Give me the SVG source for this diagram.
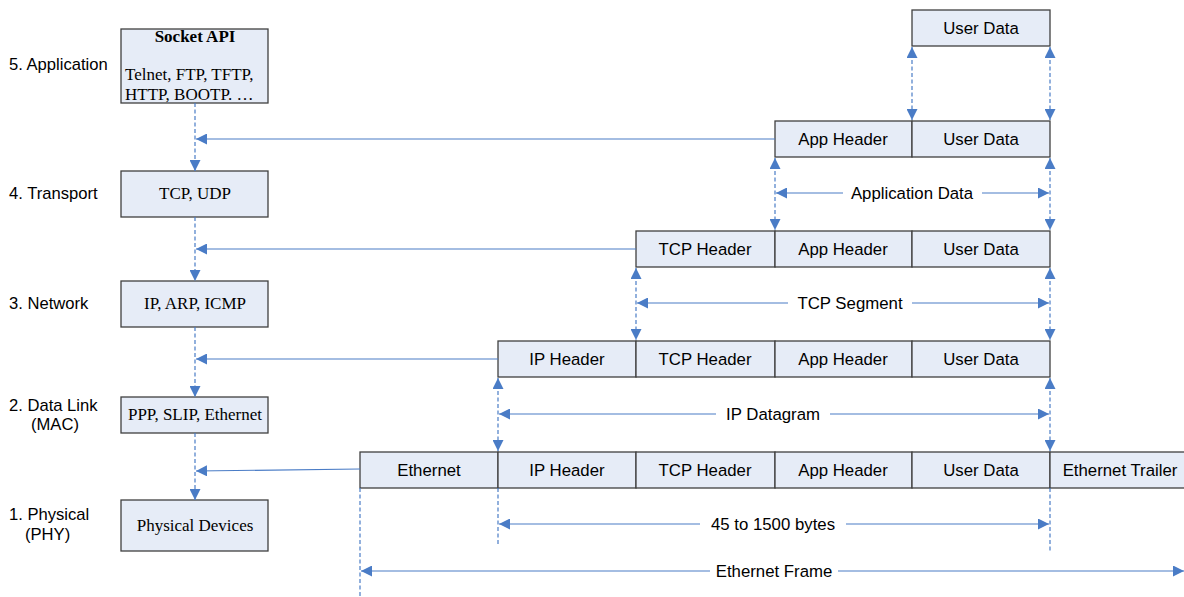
<svg xmlns="http://www.w3.org/2000/svg" width="1184" height="597" viewBox="0 0 1184 597">
<defs>
<style>
.box{fill:#E6ECF7;stroke:#404040;stroke-width:1.3}
.t{font-family:"Liberation Sans",Arial,sans-serif;font-size:16.8px;fill:#000;text-anchor:middle}
.lbl{font-family:"Liberation Sans",Arial,sans-serif;font-size:16.6px;fill:#000}
.s{font-family:"Liberation Serif","Times New Roman",serif;font-size:17px;fill:#000}
.dash{stroke:#4A7CC6;stroke-width:1.2;stroke-dasharray:4 2.5;fill:none}
.sol{stroke:#4A7CC6;stroke-width:1.2;fill:none}
</style>
<marker id="ah" viewBox="0 0 10 10" refX="10" refY="5" markerWidth="11" markerHeight="11" markerUnits="userSpaceOnUse" orient="auto-start-reverse">
<path d="M0,0 L10,5 L0,10 Z" fill="#4A7CC6"/>
</marker>
</defs>
<rect width="1184" height="597" fill="#fff"/>

<g id="layer-labels">
<text class="lbl" x="9" y="70">5. Application</text>
<text class="lbl" x="9" y="199">4. Transport</text>
<text class="lbl" x="9" y="309">3. Network</text>
<text class="lbl" x="9" y="411">2. Data Link</text>
<text class="lbl" x="31" y="430">(MAC)</text>
<text class="lbl" x="9" y="520">1. Physical</text>
<text class="lbl" x="25" y="540">(PHY)</text>
</g>

<g id="node-application">
<rect class="box" x="121" y="29" width="147" height="74"/>
<text class="s" x="195" y="42" text-anchor="middle" font-weight="bold">Socket API</text>
<text class="s" x="125" y="80">Telnet, FTP, TFTP,</text>
<text class="s" x="125" y="100">HTTP, BOOTP. …</text>
</g>
<g id="node-transport">
<rect class="box" x="121" y="171" width="147" height="46"/>
<text class="s" x="195" y="199" text-anchor="middle">TCP, UDP</text>
</g>
<g id="node-network">
<rect class="box" x="121" y="281" width="147" height="46"/>
<text class="s" x="195" y="309" text-anchor="middle">IP, ARP, ICMP</text>
</g>
<g id="node-datalink">
<rect class="box" x="121" y="397" width="147" height="36"/>
<text class="s" x="195" y="420" text-anchor="middle">PPP, SLIP, Ethernet</text>
</g>
<g id="node-physical">
<rect class="box" x="121" y="500" width="147" height="51"/>
<text class="s" x="195" y="531" text-anchor="middle">Physical Devices</text>
</g>

<g id="row0">
<rect class="box" x="912" y="10" width="138" height="36"/>
<text class="t" x="981" y="34">User Data</text>
</g>
<g id="row1">
<rect class="box" x="775" y="121" width="137" height="36"/>
<text class="t" x="843" y="145">App Header</text>
<rect class="box" x="912" y="121" width="138" height="36"/>
<text class="t" x="981" y="145">User Data</text>
</g>
<g id="row2">
<rect class="box" x="636" y="231" width="139" height="36"/>
<text class="t" x="705" y="255">TCP Header</text>
<rect class="box" x="775" y="231" width="137" height="36"/>
<text class="t" x="843" y="255">App Header</text>
<rect class="box" x="912" y="231" width="138" height="36"/>
<text class="t" x="981" y="255">User Data</text>
</g>
<g id="row3">
<rect class="box" x="498" y="341" width="138" height="36"/>
<text class="t" x="567" y="365">IP Header</text>
<rect class="box" x="636" y="341" width="139" height="36"/>
<text class="t" x="705" y="365">TCP Header</text>
<rect class="box" x="775" y="341" width="137" height="36"/>
<text class="t" x="843" y="365">App Header</text>
<rect class="box" x="912" y="341" width="138" height="36"/>
<text class="t" x="981" y="365">User Data</text>
</g>
<g id="row4">
<rect class="box" x="360" y="452" width="138" height="36"/>
<text class="t" x="429" y="476">Ethernet</text>
<rect class="box" x="498" y="452" width="138" height="36"/>
<text class="t" x="567" y="476">IP Header</text>
<rect class="box" x="636" y="452" width="139" height="36"/>
<text class="t" x="705" y="476">TCP Header</text>
<rect class="box" x="775" y="452" width="137" height="36"/>
<text class="t" x="843" y="476">App Header</text>
<rect class="box" x="912" y="452" width="138" height="36"/>
<text class="t" x="981" y="476">User Data</text>
<rect class="box" x="1050" y="452" width="140" height="36"/>
<text class="t" x="1120" y="476">Ethernet Trailer</text>
</g>

<g id="connectors">
<line class="dash" x1="195" y1="103" x2="195" y2="171" marker-end="url(#ah)"/>
<line class="dash" x1="195" y1="217" x2="195" y2="281" marker-end="url(#ah)"/>
<line class="dash" x1="195" y1="327" x2="195" y2="397" marker-end="url(#ah)"/>
<line class="dash" x1="195" y1="433" x2="195" y2="500" marker-end="url(#ah)"/>
<line class="sol" x1="775" y1="139" x2="196" y2="139" marker-end="url(#ah)"/>
<line class="sol" x1="636" y1="249" x2="196" y2="249" marker-end="url(#ah)"/>
<line class="sol" x1="498" y1="359" x2="196" y2="359" marker-end="url(#ah)"/>
<line class="sol" x1="360" y1="469" x2="196" y2="471" marker-end="url(#ah)"/>
<line class="dash" x1="912" y1="47" x2="912" y2="120" marker-start="url(#ah)" marker-end="url(#ah)"/>
<line class="dash" x1="1050" y1="47" x2="1050" y2="120" marker-start="url(#ah)" marker-end="url(#ah)"/>
<line class="dash" x1="775" y1="158" x2="775" y2="230" marker-start="url(#ah)" marker-end="url(#ah)"/>
<line class="dash" x1="1050" y1="158" x2="1050" y2="230" marker-start="url(#ah)" marker-end="url(#ah)"/>
<line class="dash" x1="636" y1="268" x2="636" y2="340" marker-start="url(#ah)" marker-end="url(#ah)"/>
<line class="dash" x1="1050" y1="268" x2="1050" y2="340" marker-start="url(#ah)" marker-end="url(#ah)"/>
<line class="dash" x1="498" y1="378" x2="498" y2="451" marker-start="url(#ah)" marker-end="url(#ah)"/>
<line class="dash" x1="1050" y1="378" x2="1050" y2="451" marker-start="url(#ah)" marker-end="url(#ah)"/>
<line class="dash" x1="498" y1="488" x2="498" y2="545"/>
<line class="dash" x1="1050" y1="488" x2="1050" y2="552"/>
<line class="dash" x1="360" y1="488" x2="360" y2="597"/>
<line class="sol" x1="843" y1="193" x2="776" y2="193" marker-end="url(#ah)"/>
<line class="sol" x1="982" y1="193" x2="1049" y2="193" marker-end="url(#ah)"/>
<text class="t" x="912" y="199">Application Data</text>
<line class="sol" x1="788" y1="303" x2="637" y2="303" marker-end="url(#ah)"/>
<line class="sol" x1="912" y1="303" x2="1049" y2="303" marker-end="url(#ah)"/>
<text class="t" x="850" y="309">TCP Segment</text>
<line class="sol" x1="716" y1="414" x2="499" y2="414" marker-end="url(#ah)"/>
<line class="sol" x1="830" y1="414" x2="1049" y2="414" marker-end="url(#ah)"/>
<text class="t" x="773" y="420">IP Datagram</text>
<line class="sol" x1="700" y1="524" x2="499" y2="524" marker-end="url(#ah)"/>
<line class="sol" x1="846" y1="524" x2="1049" y2="524" marker-end="url(#ah)"/>
<text class="t" x="773" y="530">45 to 1500 bytes</text>
<line class="sol" x1="710" y1="571" x2="361" y2="571" marker-end="url(#ah)"/>
<line class="sol" x1="838" y1="571" x2="1184" y2="571" marker-end="url(#ah)"/>
<text class="t" x="774" y="577">Ethernet Frame</text>
</g>
</svg>
